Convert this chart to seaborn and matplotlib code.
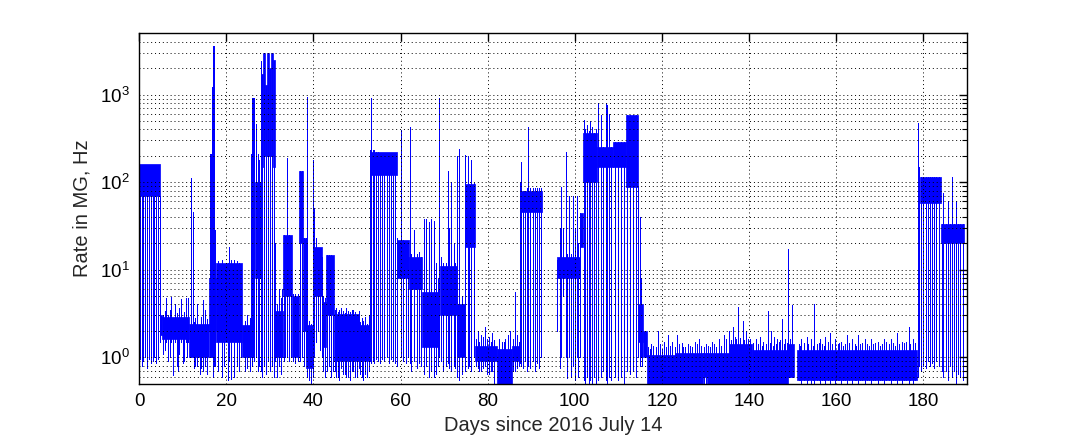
import matplotlib
matplotlib.use("Agg")
import matplotlib.pyplot as plt
import matplotlib.ticker as mticker
import numpy as np
import pandas as pd
import seaborn as sns

# solid part of the rate band: start day, end day, low, high (Hz)
seg_start = [0.1, 4.8, 5.3, 11.5, 16.1, 17.6, 23.7, 26.5, 28.0, 28.5, 29.0, 29.3, 29.9, 30.2, 30.8,
             31.1, 33.0, 35.0, 36.7, 37.7, 38.4, 40.0, 42.0, 43.0, 44.7, 50.5, 53.0, 59.1, 62.0,
             65.0, 69.0, 73.0, 74.7, 77.0, 82.2, 85.6, 87.4, 95.9, 101.2, 101.9, 105.1, 108.8,
             111.7, 114.5, 115.7, 116.5, 123.0, 129.5, 130.3, 135.5, 140.7, 149.0, 151.0, 179.3, 184.0]
seg_end = [4.8, 5.3, 11.5, 16.1, 17.6, 23.7, 25.9, 28.0, 28.5, 29.0, 29.3, 29.9, 30.2, 30.8, 31.1,
           33.0, 35.0, 36.7, 37.7, 38.4, 40.0, 42.0, 43.0, 44.7, 50.5, 53.0, 59.1, 62.0, 65.0,
           68.7, 73.0, 74.7, 77.0, 82.2, 85.6, 87.4, 92.4, 101.2, 101.9, 105.1, 108.8, 111.7,
           114.5, 115.7, 116.5, 123.0, 129.5, 130.3, 135.5, 140.7, 149.0, 150.2, 178.5, 184.0, 189.4]
seg_lo = [70, 1.8, 1.6, 1.0, 2, 1.5, 1.0, 8, 150, 200, 200, 200, 200, 200, 150,
          1.0, 5, 1.0, 20, 2, 0.75, 5, 1.3, 3, 0.9, 0.9, 120, 8, 6,
          1.3, 3, 1.0, 18, 0.9, 0.5, 0.9, 45, 8, 18, 100, 150, 150,
          87, 1.5, 1.0, 0.45, 0.45, 0.6, 0.45, 0.45, 0.45, 0.6, 0.55, 57, 20]
seg_hi = [160, 3.0, 2.9, 2.4, 8, 12, 2.3, 100, 1700, 3000, 1300, 3000, 2000, 3000, 2500,
          3.4, 25, 5.0, 135, 23, 2.3, 18, 4.3, 14.5, 3.1, 2.3, 220, 22, 14,
          5.5, 11, 4, 95, 1.35, 1.25, 1.35, 80, 14, 44, 360, 250, 285,
          580, 4, 2.0, 1.05, 1.12, 1.12, 1.12, 1.4, 1.2, 1.4, 1.22, 113, 33]

# single excursions of the rate: day, low, high (Hz)
stroke_day = [0.2, 0.6, 1.0, 1.4, 1.9, 2.3, 2.7, 3.1, 3.5, 3.9, 4.3, 4.7,
              4.9, 5.5, 6.2, 6.7, 7.3, 7.8, 8.3, 8.9, 9.6, 10.1, 10.8, 11.0, 11.2,
              11.9, 12.3, 12.5, 13.3, 13.9, 14.6, 15.2, 15.7,
              16.3, 16.5, 16.8, 17.0, 17.15, 17.3, 17.45,
              18.2, 19.0, 19.5, 20.3, 20.6, 21.0, 21.8, 22.4, 23.0, 23.5,
              24.2, 24.8, 25.4, 25.8, 26.0, 26.2, 26.4,
              26.95, 27.2, 27.4, 27.6, 27.9,
              28.2, 28.7, 29.2, 29.6, 30.1, 30.5, 30.9,
              31.3, 31.7, 32.2, 32.6, 32.9,
              33.3, 33.6, 34.0, 34.4, 34.8, 35.3, 35.9, 36.4,
              36.9, 37.3, 37.9, 38.2, 38.6, 39.1, 39.5, 39.85,
              40.2, 40.5, 41.0, 41.5, 41.9, 42.3, 42.7, 43.2, 43.7, 44.1, 44.5,
              45.3, 46.0, 46.8, 47.5, 48.3, 49.2, 50.0, 50.8, 51.5, 52.2, 52.7,
              53.1, 53.3, 53.6, 54.0, 54.4, 54.9, 55.3, 55.8, 56.3, 56.8, 57.3, 57.8, 58.3, 58.8,
              59.3, 60.1, 60.6, 61.2, 61.7, 62.1, 62.5, 63.2, 63.8, 64.3, 64.8,
              65.3, 65.9, 66.6, 67.0, 67.6, 68.2, 68.5, 68.8,
              69.3, 69.8, 70.4, 70.8, 71.2, 71.7, 72.2, 72.6, 72.9, 73.5, 74.0,
              74.9, 75.4, 75.8, 76.2, 76.8,
              77.8, 78.5, 79.5, 80.2, 81.0, 82.6, 83.3, 84.0, 84.7, 85.2, 86.2, 86.8,
              87.5, 87.6, 88.0, 88.5, 89.0, 89.3, 89.8, 90.3, 90.8, 91.3, 91.8, 92.2,
              96.0, 96.5, 96.8, 97.4, 97.9, 98.3, 98.7, 99.2, 99.6, 100.0, 100.4, 100.8, 101.1,
              102.1, 102.4, 102.8, 103.2, 103.6, 104.0, 104.4, 104.8,
              105.4, 106.0, 106.5, 107.1, 107.5, 107.9, 108.4,
              109.2, 109.8, 110.5, 111.2, 111.9, 112.6, 113.3, 114.0,
              114.6, 114.9, 115.2, 115.5,
              117.5, 119.1, 120.5, 121.3, 122.4, 123.4, 124.5, 126.0, 127.5, 128.5, 130.0, 131.5,
              133.0, 134.3, 135.3, 136.2, 137.5, 138.5, 139.3, 140.3, 141.5, 142.5, 143.3, 144.4,
              145.0, 145.8, 146.5, 147.5, 148.3, 149.0, 149.5, 149.9,
              152.0, 153.2, 154.2, 155.0, 156.3, 157.5, 158.6, 159.8, 161.0, 162.5, 163.7, 165.0,
              166.5, 168.0, 169.5, 171.0, 172.5, 173.9, 175.0, 176.6, 177.6,
              178.7, 178.85, 179.1,
              179.5, 180.0, 180.5, 181.0, 181.5, 182.0, 182.5, 183.0, 183.5,
              184.3, 184.6, 185.1, 185.6, 186.0, 186.6, 187.0, 187.5, 188.0, 188.5, 189.0,
              # ragged top of the quiet stretches
              5.9, 7.0, 8.6, 9.2, 10.4, 12.9, 14.2, 15.5, 45.0, 45.7, 46.4, 47.2, 48.0, 48.8,
              49.6, 50.4, 51.1, 51.9, 77.4, 78.1, 79.0, 79.9, 80.7, 81.5, 83.7, 85.9, 87.1,
              116.9, 117.2, 118.0, 118.6, 119.6, 120.0, 120.9, 121.8, 122.9, 123.9, 124.9,
              125.4, 126.5, 127.0, 128.0, 129.0, 129.6, 130.6, 131.0, 132.0, 132.5, 133.6,
              134.8, 135.8, 136.7, 137.1, 137.9, 138.9, 139.8, 140.8, 141.0, 142.0, 142.9,
              143.8, 144.8, 145.4, 146.1, 146.9, 147.1, 147.9, 148.7,
              151.4, 151.7, 152.6, 153.6, 154.7, 155.5, 156.0, 156.8, 157.1, 158.1, 159.1,
              160.3, 160.6, 161.5, 162.0, 163.0, 164.2, 164.6, 165.5, 166.0, 167.0, 167.5,
              168.5, 169.0, 170.0, 170.5, 171.5, 172.0, 173.0, 173.5, 174.4, 175.5, 176.0,
              177.0, 178.1]
stroke_lo = [0.95, 0.8, 0.9, 1.0, 0.75, 0.95, 0.85, 0.9, 1.0, 0.85, 0.95, 1.5,
             2, 1.1, 1.5, 0.9, 1.5, 0.62, 1.5, 0.7, 1.5, 0.85, 1.5, 1.0, 1.5,
             1.0, 1.0, 0.75, 0.8, 0.65, 0.7, 0.8, 0.65,
             1.0, 1.0, 1.0, 0.6, 1.0, 0.8, 0.8,
             0.7, 0.6, 0.8, 0.55, 0.9, 0.56, 0.6, 0.8, 0.7, 1.0,
             0.7, 0.75, 0.7, 1.0, 0.8, 1.0, 0.9,
             1.0, 0.7, 1.0, 0.8, 0.7,
             0.6, 0.8, 0.65, 0.9, 0.7, 0.8, 0.6,
             0.9, 0.6, 0.8, 0.65, 1.0,
             0.9, 1.0, 1.0, 0.9, 1.0, 0.9, 0.85, 0.9,
             0.9, 1.0, 0.8, 1.0, 0.6, 0.55, 0.5, 0.6,
             1.0, 1.5, 2, 1.2, 1.0, 0.7, 0.6, 0.7, 0.8, 0.6, 0.7,
             0.6, 0.55, 0.65, 0.6, 0.55, 0.7, 0.6, 0.65, 0.55, 0.6, 0.7,
             0.9, 0.85, 0.9, 0.85, 0.95, 0.9, 0.85, 0.95, 0.9, 1.0, 0.85, 0.95, 0.9, 0.85,
             0.8, 1.0, 0.9, 0.85, 1.0, 0.85, 0.7, 0.9, 0.75, 0.85, 0.8,
             0.65, 0.8, 0.6, 0.7, 0.6, 0.65, 0.8, 1.0,
             0.9, 0.7, 0.8, 0.85, 0.75, 0.7, 0.8, 0.75, 0.6, 0.55, 0.65,
             0.7, 0.75, 0.8, 0.7, 1.0,
             0.75, 0.7, 0.8, 0.65, 0.7, 0.45, 0.45, 0.45, 0.5, 0.55, 0.7, 0.75,
             0.85, 0.8, 0.75, 0.9, 0.7, 0.8, 0.75, 0.9, 0.7, 0.85, 0.75, 1.0,
             2, 0.75, 1.0, 5, 1, 0.58, 1, 0.6, 0.8, 0.55, 1, 0.6, 1,
             0.55, 0.5, 0.6, 0.5, 0.55, 0.5, 0.6, 0.5,
             0.55, 0.6, 0.7, 0.55, 0.5, 0.6, 0.55,
             0.6, 0.55, 0.6, 0.5, 0.7, 0.65, 0.7, 0.6,
             1.0, 0.8, 1.0, 0.8,
             0.45, 0.45, 0.45, 0.45, 0.45, 0.45, 0.45, 0.45, 0.45, 0.45, 0.45, 0.45,
             0.45, 0.45, 0.45, 0.45, 0.45, 0.45, 0.45, 0.45, 0.45, 0.45, 0.45, 0.45,
             0.45, 0.45, 0.45, 0.45, 0.45, 0.6, 0.6, 0.6,
             0.5, 0.5, 0.5, 0.5, 0.5, 0.5, 0.5, 0.5, 0.5, 0.5, 0.5, 0.5,
             0.5, 0.5, 0.5, 0.5, 0.5, 0.5, 0.5, 0.5, 0.5,
             0.6, 0.6, 0.8,
             0.7, 0.8, 0.75, 0.9, 0.8, 0.85, 0.75, 0.9, 0.8,
             0.7, 0.6, 0.7, 0.55, 0.8, 0.6, 0.7, 0.5, 0.65, 0.6, 0.55,
             1.2, 1.0, 0.8, 1.1, 0.9, 0.8, 0.75, 0.85, 0.7, 0.6, 0.75, 0.65, 0.6, 0.7,
             0.6, 0.75, 0.6, 0.65, 0.8, 0.7, 0.75, 0.65, 0.7, 0.5, 0.5, 0.7, 0.8,
             0.5, 0.5, 0.5, 0.5, 0.5, 0.5, 0.5, 0.5, 0.5, 0.5, 0.5,
             0.5, 0.5, 0.5, 0.5, 0.5, 0.5, 0.5, 0.5, 0.5, 0.5, 0.5,
             0.5, 0.5, 0.5, 0.5, 0.5, 0.5, 0.5, 0.5, 0.5, 0.5, 0.5,
             0.5, 0.5, 0.5, 0.5, 0.5, 0.5, 0.5, 0.5,
             0.55, 0.55, 0.55, 0.55, 0.55, 0.55, 0.55, 0.55, 0.55, 0.55, 0.55,
             0.55, 0.55, 0.55, 0.55, 0.55, 0.55, 0.55, 0.55, 0.55, 0.55, 0.55,
             0.55, 0.55, 0.55, 0.55, 0.55, 0.55, 0.55, 0.55, 0.55, 0.55, 0.55,
             0.55, 0.55]
stroke_hi = [70, 70, 70, 70, 70, 70, 70, 70, 70, 70, 70, 70,
             10, 3, 4.8, 3, 4.9, 2, 4.0, 2, 4.6, 2, 4.8, 2, 4.7,
             110, 45, 2.5, 4.0, 2, 4.5, 3.5, 2.4,
             207, 207, 1220, 3600, 3600, 1200, 28,
             12.5, 13, 11, 12, 18, 13, 13, 12.5, 12, 11,
             2.6, 3, 2.8, 210, 920, 920, 920,
             460, 177, 210, 177, 2400,
             150, 200, 200, 200, 200, 200, 150,
             20, 4, 6, 4.8, 6,
             25, 20, 186, 25, 23, 5.3, 5.3, 5.3,
             135, 135, 23, 23, 930, 2.6, 2.4, 177,
             51, 23, 16, 14, 14, 5, 4.8, 14.5, 14.5, 14.5, 14,
             3.6, 3.5, 3.4, 3.6, 3.3, 3.5, 3.0, 2.5, 2.6, 2.4, 3.0,
             230, 920, 230, 230, 220, 220, 210, 210, 210, 210, 210, 210, 210, 210,
             23, 390, 22, 20, 18, 420, 15, 28, 15, 16, 14,
             38, 38, 35, 38, 36, 12, 8, 920,
             14, 12, 12, 135, 30, 100, 20, 12, 200, 240, 5,
             205, 200, 95, 180, 97,
             2.0, 1.8, 2.2, 1.7, 1.9, 1.6, 1.5, 1.6, 1.8, 2.0, 5.5, 1.8,
             100, 170, 80, 80, 85, 420, 85, 85, 85, 85, 85, 85,
             13, 30, 87, 30, 218, 15, 70, 15, 70, 30, 70, 20, 44,
             510, 400, 450, 380, 500, 420, 360, 400,
             810, 580, 250, 800, 750, 600, 250,
             285, 285, 285, 285, 580, 580, 580, 580,
             90, 40, 8, 3.7,
             1.4, 2.0, 1.5, 1.8, 1.5, 1.8, 1.45, 1.4, 1.5, 1.6, 1.4, 1.5,
             1.6, 1.8, 2.0, 2.2, 3.7, 2.6, 2.0, 1.6, 1.6, 1.7, 1.5, 3.4,
             2.0, 1.7, 1.6, 2.7, 1.6, 17.3, 1.6, 3.9,
             1.6, 1.7, 1.6, 4.1, 1.6, 1.7, 1.9, 1.6, 1.5, 1.8, 1.6, 1.8,
             1.6, 1.6, 1.5, 1.6, 1.6, 1.9, 1.5, 2.2, 1.6,
             360, 470, 150,
             113, 113, 113, 113, 113, 113, 113, 113, 113,
             33, 74, 33, 60, 33, 115, 33, 60, 33, 33, 33,
             3.4, 3.5, 3.2, 3.6, 3.3, 2.8, 2.9, 2.7, 3.5, 3.3, 3.6, 3.2, 3.4, 3.5,
             3.3, 3.4, 2.8, 2.9, 1.6, 1.5, 1.7, 1.6, 1.5, 1.55, 1.5, 1.6, 1.5,
             1.3, 1.25, 1.35, 1.3, 1.4, 1.25, 1.3, 1.35, 1.3, 1.4, 1.3,
             1.3, 1.35, 1.3, 1.4, 1.35, 1.3, 1.35, 1.3, 1.4, 1.3, 1.35,
             1.6, 1.55, 1.7, 1.6, 1.65, 1.55, 1.6, 1.4, 1.45, 1.4, 1.35,
             1.4, 1.45, 1.35, 1.4, 1.5, 1.55, 1.4, 1.45,
             1.4, 1.35, 1.45, 1.4, 1.35, 1.4, 1.45, 1.4, 1.35, 1.5, 1.4,
             1.4, 1.45, 1.35, 1.4, 1.45, 1.4, 1.35, 1.4, 1.45, 1.4, 1.35,
             1.4, 1.45, 1.35, 1.4, 1.5, 1.4, 1.45, 1.35, 1.4, 1.45, 1.5,
             1.4, 1.45]

x_ticks = [0, 20, 40, 60, 80, 100, 120, 140, 160, 180]

strokes = pd.DataFrame({
    "day": np.repeat(stroke_day, 2),
    "rate": np.column_stack([stroke_lo, stroke_hi]).ravel(),
    "stroke": np.repeat(np.arange(len(stroke_day)), 2),
})

sns.set_style("white")
plt.rcParams["font.family"] = ["Liberation Sans", "DejaVu Sans"]

fig = plt.figure(figsize=(10.68, 4.4), dpi=100)
ax = fig.add_axes([0.1302, 0.1284, 0.7752, 0.7959])
ax.set_yscale("log")

blue = "#0000ff"
for s, e, lo, hi in zip(seg_start, seg_end, seg_lo, seg_hi):
    ax.fill_between([s, e], [lo, lo], [hi, hi], color=blue, lw=0.5, edgecolor=blue)

# one pixel wide, hard edged strokes
sns.lineplot(data=strokes, x="day", y="rate", units="stroke", estimator=None,
             sort=False, color=blue, lw=0.72, ax=ax, legend=False, antialiased=False)

ax.set_xlim(0, 190)
ax.set_ylim(0.5, 5000)
ax.set_xticks(x_ticks)
ax.xaxis.set_minor_locator(mticker.NullLocator())
ax.yaxis.set_major_locator(mticker.LogLocator(base=10, numticks=10))
ax.yaxis.set_minor_locator(mticker.LogLocator(base=10, subs=np.arange(2, 10), numticks=20))
ax.yaxis.set_minor_formatter(mticker.NullFormatter())

ax.grid(True, which="major", axis="both", color="black", linestyle=(0, (1, 3)), lw=0.7)
ax.grid(True, which="minor", axis="y", color="black", linestyle=(0, (1, 3)), lw=0.7)
ax.set_axisbelow(False)

for sp in ax.spines.values():
    sp.set_color("black")
    sp.set_linewidth(1.0)
    sp.set_visible(True)

ax.tick_params(which="both", direction="in", top=True, right=True, colors="black",
               labelsize=13.5, pad=7)
ax.tick_params(which="major", length=6, width=1)
ax.tick_params(which="minor", length=3.5, width=0.8)

ax.set_xlabel("Days since 2016 July 14", fontsize=14.5, labelpad=4)
ax.set_ylabel("Rate in MG, Hz", fontsize=14.5, labelpad=6)

fig.savefig("out.png", dpi=100, facecolor="white")
